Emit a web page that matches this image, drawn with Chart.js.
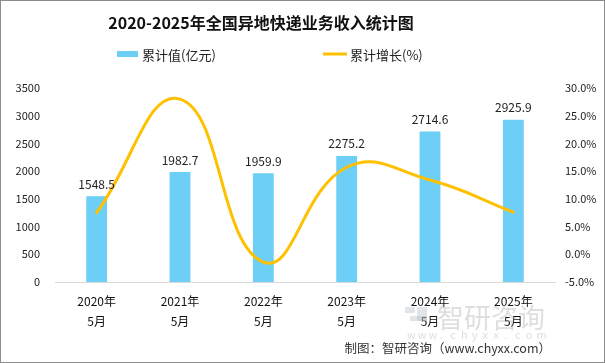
<!DOCTYPE html>
<html>
<head>
<meta charset="utf-8">
<script src="https://cdn.jsdelivr.net/npm/chart.js@4/dist/chart.umd.min.js"></script>
<style>
  html, body { margin: 0; padding: 0; background: #fff; }
  #wrap { width: 605px; height: 363px; position: relative; }
</style>
</head>
<body>
<div id="wrap"><canvas id="barChart" width="605" height="363"></canvas></div>
<script>
var categories = [['2020年', '5月'], ['2021年', '5月'], ['2022年', '5月'], ['2023年', '5月'], ['2024年', '5月'], ['2025年', '5月']];
var leijizhi = [1548.5, 1982.7, 1959.9, 2275.2, 2714.6, 2925.9];
var leijizengzhang = [7.5, 28.0, -1.4, 15.7, 13.4, 7.6];

var FONT = '"Microsoft YaHei", "Noto Sans CJK SC", "Noto Sans", sans-serif';
var blue = '#6DCFF6';
var gold = '#FFC000';

// title, legend, labels, watermark drawn by hand
var extras = {
    id: 'extras',
    afterDatasetsDraw: function (chart) {
        var c = chart.ctx;
        c.save();
        // bar value labels
        var meta = chart.getDatasetMeta(1);
        c.font = '12px ' + FONT;
        c.fillStyle = '#222';
        c.textAlign = 'center';
        c.textBaseline = 'bottom';
        meta.data.forEach(function (bar, i) {
            c.fillText(leijizhi[i].toFixed(1), bar.x, bar.y - 6);
        });
        c.restore();
    },
    afterDraw: function (chart) {
        var c = chart.ctx;
        c.save();
        // title
        c.font = 'bold 16px ' + FONT;
        c.fillStyle = '#111';
        c.textAlign = 'center';
        c.textBaseline = 'middle';
        c.fillText('2020-2025年全国异地快递业务收入统计图', 261, 23);

        // legend
        c.font = '13px ' + FONT;
        c.textAlign = 'left';
        c.fillStyle = blue;
        c.fillRect(117, 51, 21, 6);
        c.fillStyle = '#222';
        c.fillText(chart.data.datasets[1].label, 142, 55);
        c.strokeStyle = gold;
        c.lineWidth = 3;
        c.beginPath();
        c.moveTo(323, 54);
        c.lineTo(347, 54);
        c.stroke();
        c.fillText(chart.data.datasets[0].label, 350, 55);

        // watermark
        c.fillStyle = 'rgba(170,180,190,0.35)';
        c.fillRect(405, 307, 10, 6);
        c.fillRect(410, 316, 17, 5);
        c.fillRect(417, 307, 10, 14);
        c.fillStyle = 'rgba(160,160,160,0.35)';
        c.font = '27px ' + FONT;
        c.textBaseline = 'middle';
        c.fillText('智研咨询', 437, 318);
        c.font = '11px ' + FONT;
        var w = 'www.chyxx.com';
        for (var i = 0; i < w.length; i++) {
            c.fillText(w[i], 407 + i * 10.8, 335);
        }

        // source
        c.fillStyle = '#333';
        c.font = '12.5px ' + FONT;
        c.textAlign = 'right';
        c.fillText('制图：智研咨询（www.chyxx.com）', 551, 348);

        // outer border
        c.strokeStyle = '#8c8c8c';
        c.lineWidth = 1;
        c.strokeRect(0.5, 0.5, 604, 362);
        c.restore();
    }
};

var ctx = document.getElementById('barChart').getContext('2d');
var chart = new Chart(ctx, {
    data: {
        labels: categories,
        datasets: [
            {
                type: 'line',
                label: '累计增长(%)',
                data: leijizengzhang,
                yAxisID: 'y1',
                borderColor: gold,
                backgroundColor: gold,
                borderWidth: 3,
                borderCapStyle: 'round',
                pointRadius: 0,
                tension: 0.45,
                order: 0
            },
            {
                type: 'bar',
                label: '累计值(亿元)',
                data: leijizhi,
                yAxisID: 'y',
                backgroundColor: blue,
                barPercentage: 0.25,
                categoryPercentage: 1,
                order: 1
            }
        ]
    },
    options: {
        responsive: false,
        animation: false,
        layout: { padding: { top: 88, left: 0, right: 0, bottom: 0 } },
        plugins: {
            legend: { display: false },
            title: { display: false },
            tooltip: { enabled: false }
        },
        scales: {
            x: {
                grid: { display: false, drawTicks: false },
                border: { display: true, color: '#d9d9d9' },
                ticks: { font: { size: 12, family: FONT, lineHeight: 1.65 }, color: '#111', padding: 10, maxRotation: 0 },
                afterFit: function (s) { s.height = 81; }
            },
            y: {
                position: 'left',
                min: 0, max: 3500,
                ticks: {
                    stepSize: 500, font: { size: 11, family: FONT }, color: '#222', padding: 15,
                    callback: function (v) { return String(v); }
                },
                grid: { display: false, drawTicks: false },
                border: { display: false },
                afterFit: function (s) { s.width = 55; }
            },
            y1: {
                position: 'right',
                min: -5, max: 30,
                ticks: {
                    stepSize: 5, font: { size: 11, family: FONT }, color: '#222', padding: 10,
                    callback: function (v) { return v.toFixed(1) + '%'; }
                },
                grid: { display: false, drawTicks: false },
                border: { display: false },
                afterFit: function (s) { s.width = 50; }
            }
        }
    },
    plugins: [extras]
});
</script>
</body>
</html>
